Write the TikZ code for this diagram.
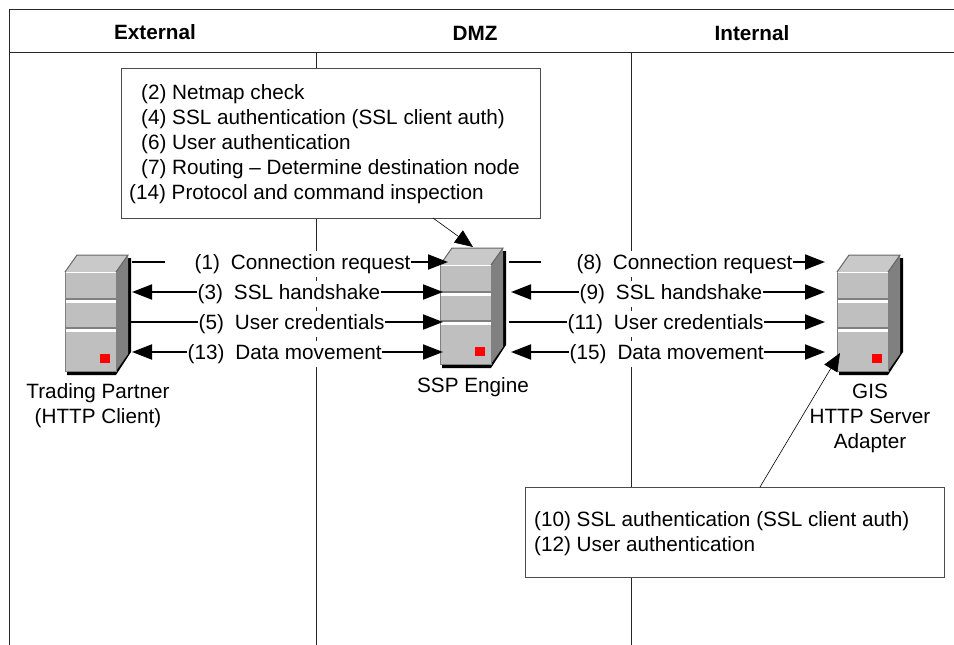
\documentclass[tikz,border=0pt]{standalone}
\usepackage{fontspec}
\setmainfont{Liberation Sans}
\usetikzlibrary{arrows.meta}
\newcommand*{\srvw}{51}
\newcommand*{\srvh}{99}
\newcommand*{\srvdx}{12}
\newcommand*{\srvdy}{17}
\definecolor{srvfront}{gray}{0.75}
\definecolor{srvedge}{gray}{0.5}
\tikzset{
    wire/.style     = {line width=1.9pt},
    sendwire/.style = {wire, -{Triangle[length=20pt,width=15pt]}},
    bothwire/.style = {wire, {Triangle[length=20pt,width=15pt]}-{Triangle[length=20pt,width=15pt]}},
    pointer/.style  = {line width=0.6pt, -{Triangle[length=18pt,width=15pt]}},
    lane/.style     = {line width=0.8pt, black!85},
    notebox/.style  = {draw=black!70, line width=0.8pt, fill=white, inner sep=0pt},
    steplabel/.style= {fill=white, inner xsep=0.5pt, inner ysep=0pt, minimum height=26pt, anchor=west, yshift=-2pt, font=\fontsize{20.7}{23}\selectfont},
    notetext/.style = {inner sep=0pt, anchor=base west, font=\fontsize{20.7}{23}\selectfont},
    caption/.style  = {align=center, font=\fontsize{20.7}{25}\selectfont},
    head/.style     = {font=\fontsize{20.7}{23}\selectfont\bfseries},
}
% #1 name, #2 x and #3 y of the front face's top left corner
\newcommand*{\server}[3]{
    \begin{scope}[shift={(#2,#3)}]
        \fill [black] (2,\srvh+4) -- (\srvw,\srvh+4) -- (\srvw+\srvdx+3,\srvh-19) -- (\srvw+\srvdx+3,-\srvdy+3) -- (\srvw,-\srvdy+3) -- (\srvw,\srvh-19) -- (2,\srvh-19) -- cycle;
        \fill [srvfront!85!white] (0,0) -- (\srvdx,-\srvdy) -- (\srvw+\srvdx,-\srvdy) -- (\srvw,0) -- cycle;
        \fill [srvedge] (\srvw,0) -- (\srvw+\srvdx,-\srvdy) -- (\srvw+\srvdx,\srvh-\srvdy) -- (\srvw,\srvh) -- cycle;
        \draw [srvedge!120!white, line width=1pt] (0,0) -- (\srvdx,-\srvdy) -- (\srvw+\srvdx,-\srvdy) -- (\srvw,0);
        \node [fill=srvfront, draw=srvedge, line width=1pt, minimum width=\srvw pt, minimum height=\srvh pt, inner sep=0pt, anchor=north west] (#1) at (0,0) {};
        \draw [white, line width=1.5pt] (0.5,0.5) -- (\srvw,0.5);
        \draw [srvedge, line width=1.5pt] (0,27) -- (\srvw,27);
        \draw [white, line width=2.2pt] (1,29.5) -- (\srvw,29.5);
        \draw [srvedge, line width=1.5pt] (0,56) -- (\srvw,56);
        \draw [white, line width=2.2pt] (1,58.5) -- (\srvw,58.5);
        \fill [red] (35,82) rectangle (45,91);
    \end{scope}
}

\begin{document}
\begin{tikzpicture}[x=1pt,y=-1pt]
    \useasboundingbox (0,0) rectangle (954,645);
    % lanes
    \coordinate (frametop) at (9,9);
    \coordinate (frameleft) at (9,645);
    \draw [lane] (954,9) -- (frametop) -- (frameleft);
    \draw [lane] (9,52) -- (954,52);
    \draw [lane] (316,52) -- (316,645);
    \draw [lane] (631,52) -- (631,645);
    \node [head] (external) at (155,32) {External};
    \node [head] (dmz) at (475,33) {DMZ};
    \node [head] (internal) at (752,33) {Internal};

    % the three machines
    \server{partner}{65}{272}
    \server{engine}{440}{265}
    \server{gis}{837}{272}
    \node [caption] (partnername) at (98,406) {Trading Partner\\(HTTP Client)};
    \node [caption] (enginename) at (473,387) {SSP Engine};
    \node [caption] (gisname) at (870,418) {GIS\\HTTP Server\\Adapter};

    % ends of the wires
    \coordinate (p1) at (132,262);
    \coordinate (p3) at (132,292);
    \coordinate (p5) at (129,322);
    \coordinate (p13) at (132,352);
    \coordinate (e1) at (448,262);
    \coordinate (e3) at (443,292);
    \coordinate (e5) at (443,322);
    \coordinate (e13) at (443,352);
    \coordinate (r8) at (509,262);
    \coordinate (r9) at (511,292);
    \coordinate (r11) at (509,322);
    \coordinate (r15) at (511,352);
    \coordinate (g8) at (825,262);
    \coordinate (g9) at (825,292);
    \coordinate (g11) at (825,322);
    \coordinate (g15) at (825,352);

    \draw [sendwire] (p1) -- (e1);
    \draw [bothwire] (p3) -- (e3);
    \draw [sendwire] (p5) -- (e5);
    \draw [bothwire] (p13) -- (e13);
    \draw [sendwire] (r8) -- (g8);
    \draw [bothwire] (r9) -- (g9);
    \draw [sendwire] (r11) -- (g11);
    \draw [bothwire] (r15) -- (g15);

    \node [steplabel] (step1) at (165,262) {\hspace{29pt}(1)\hspace{11pt}Connection request};
    \node [steplabel] (step3) at (197,292) {(3)\hspace{11pt}SSL handshake};
    \node [steplabel] (step5) at (198,322) {(5)\hspace{11pt}User credentials};
    \node [steplabel] (step13) at (187,352) {(13)\hspace{11pt}Data movement};
    \node [steplabel] (step8) at (541,262) {\hspace{35pt}(8)\hspace{11pt}Connection request};
    \node [steplabel] (step9) at (579,292) {(9)\hspace{11pt}SSL handshake};
    \node [steplabel] (step11) at (567,322) {(11)\hspace{11pt}User credentials};
    \node [steplabel] (step15) at (569,352) {(15)\hspace{11pt}Data movement};

    % notes
    \node [notebox, minimum width=419pt, minimum height=150pt] (checks) at (330.5,143) {};
    \node [notetext] (check2) at (141,99) {(2) Netmap check};
    \node [notetext] (check4) at (141,124) {(4) SSL authentication (SSL client auth)};
    \node [notetext] (check6) at (141,149) {(6) User authentication};
    \node [notetext] (check7) at (141,174) {(7) Routing -- Determine destination node};
    \node [notetext] (check14) at (129,199) {(14) Protocol and command inspection};
    \node [notebox, minimum width=419pt, minimum height=90pt] (auth) at (734.5,532) {};
    \node [notetext] (auth10) at (534,526) {(10) SSL authentication (SSL client auth)};
    \node [notetext] (auth12) at (534,551) {(12) User authentication};

    \coordinate (checksout) at (433,218);
    \coordinate (enginetop) at (473,247);
    \coordinate (authout) at (760,487);
    \coordinate (gisfoot) at (840,353);
    \draw [pointer] (checksout) -- (enginetop);
    \draw [pointer] (authout) -- (gisfoot);
\end{tikzpicture}
\end{document}
